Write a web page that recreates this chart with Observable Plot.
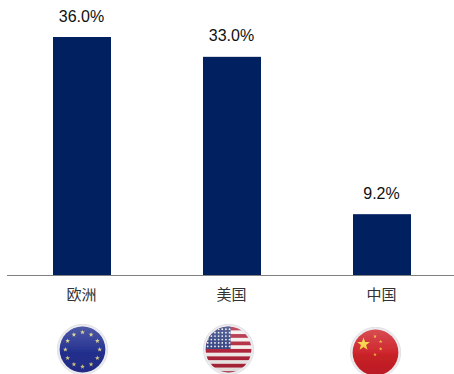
<!DOCTYPE html>
<html>
<head>
<meta charset="utf-8">
<script src="https://cdn.jsdelivr.net/npm/d3@7"></script>
<script src="https://cdn.jsdelivr.net/npm/@observablehq/plot@0.6"></script>
<style>
  html, body { margin: 0; padding: 0; background: #fff; }
  svg { display: block; }
</style>
</head>
<body>
<div id="chart"></div>
<script>
const regions = ["欧洲", "美国", "中国"];
const shares = [36.0, 33.0, 9.2];
const shareLabels = ["36.0%", "33.0%", "9.2%"];

const rows = regions.map((region, i) => ({region, share: shares[i], label: shareLabels[i]}));

// Five-pointed star outline, used by the flag badges
function star(cx, cy, r, fill) {
  const pts = d3.range(10).map(i => {
    const a = -Math.PI / 2 + i * Math.PI / 5;
    const q = i % 2 ? r * 0.4 : r;
    return `${(cx + q * Math.cos(a)).toFixed(2)},${(cy + q * Math.sin(a)).toFixed(2)}`;
  });
  return `<polygon points="${pts.join(" ")}" fill="${fill}"/>`;
}

// Round glossy badge around the given flag artwork
function badge(art) {
  const svg = `<svg xmlns="http://www.w3.org/2000/svg" width="100" height="100" viewBox="0 0 100 100">
  <defs>
    <clipPath id="c"><circle cx="50" cy="50" r="44"/></clipPath>
    <linearGradient id="g" x1="0" y1="0" x2="0" y2="1">
      <stop offset="0" stop-color="#fff" stop-opacity=".22"/>
      <stop offset=".5" stop-color="#fff" stop-opacity=".03"/>
      <stop offset=".55" stop-color="#000" stop-opacity=".03"/>
      <stop offset="1" stop-color="#000" stop-opacity=".1"/>
    </linearGradient>
    <filter id="s" x="-10%" y="-10%" width="120%" height="120%"><feGaussianBlur stdDeviation=".8"/></filter>
  </defs>
  <g filter="url(#s)">
    <circle cx="50" cy="50" r="48.5" fill="#eaeaef" stroke="#dcdce2" stroke-width="1.5"/>
    <g clip-path="url(#c)">${art}<rect x="0" y="0" width="100" height="100" fill="url(#g)"/></g>
  </g>
</svg>`;
  return "data:image/svg+xml;charset=utf-8," + encodeURIComponent(svg);
}

const euArt = `<rect width="100" height="100" fill="#233090"/>` +
  d3.range(12).map(i => {
    const a = i * Math.PI / 6;
    return star(50 + 33 * Math.sin(a), 50 - 33 * Math.cos(a), 4.8, "#d9cf85");
  }).join("");

const usArt = `<rect width="100" height="100" fill="#f4eeee"/>` +
  d3.range(7).map(i => `<rect x="0" y="${6 + i * 14.3}" width="100" height="7.2" fill="#b0243a"/>`).join("") +
  `<rect x="0" y="0" width="54" height="49" fill="#2f3f7f"/>` +
  d3.range(6).map(r => d3.range(7).map(c =>
    `<circle cx="${10 + c * 7}" cy="${11 + r * 6.6}" r="1.7" fill="#f2f2f6"/>`).join("")).join("");

const cnArt = `<rect width="100" height="100" fill="#cd2128"/>` +
  star(27, 34, 13, "#f7d23e") + star(49, 19, 3.8, "#f2b23a") + star(60, 29, 3.8, "#f2b23a") +
  star(60, 43, 3.8, "#f2b23a") + star(49, 54, 3.8, "#f2b23a");

const flags = [
  {region: "欧洲", src: badge(euArt)},
  {region: "美国", src: badge(usArt)},
  {region: "中国", src: badge(cnArt)}
];

// Horizontal shift and drop of each badge relative to its category centre
const badgeShift = {"欧洲": [0, 74], "美国": [-4, 74], "中国": [-7, 77]};

const chart = Plot.plot({
  width: 454,
  height: 374,
  marginTop: 0,
  marginRight: 0,
  marginBottom: 99,
  marginLeft: 7,
  style: {background: "#fff", overflow: "hidden"},
  x: {domain: regions, range: [7, 457], paddingInner: 0.613, paddingOuter: 0.3065, align: 0.5, label: null},
  y: {domain: [0, 36], range: [275, 37], axis: null},
  marks: [
    Plot.barY(rows, {x: "region", y: "share", fill: "#002060"}),
    Plot.ruleY([0], {stroke: "#808080", strokeWidth: 1}),
    Plot.axisX({
      anchor: "bottom",
      tickSize: 0,
      tickPadding: 14,
      dx: -1,
      label: null,
      fontSize: 15,
      fontFamily: "'Noto Sans CJK SC', sans-serif",
      color: "#333"
    }),
    Plot.text(rows, {
      x: "region",
      y: "share",
      text: "label",
      dx: -1,
      dy: -21,
      fontSize: 16,
      fontFamily: "'Liberation Sans', Arial, sans-serif",
      fill: "#111"
    }),
    ...flags.map(f => Plot.image([f], {
      x: "region",
      src: "src",
      width: 52,
      height: 52,
      frameAnchor: "bottom",
      dx: badgeShift[f.region][0],
      dy: badgeShift[f.region][1]
    }))
  ]
});

document.getElementById("chart").appendChild(chart);
</script>
</body>
</html>
